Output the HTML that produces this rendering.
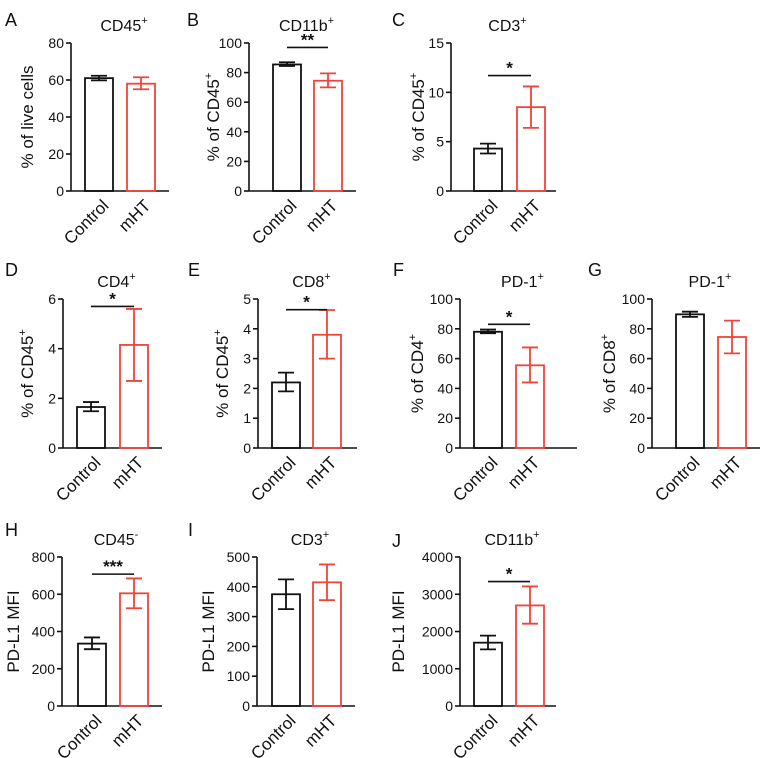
<!DOCTYPE html>
<html><head><meta charset="utf-8"><style>
html,body{margin:0;padding:0;background:#fff;}
svg{display:block;font-family:"Liberation Sans",Arial,sans-serif;}
</style></head><body>
<svg id="fig" width="766" height="758" viewBox="0 0 766 758"></svg>
<script>
// Data arrays (value, lower error, upper error) per panel: [control, mHT]
const panelLetters = ["A","B","C","D","E","F","G","H","I","J"];
const panelTitles = ["CD45","CD11b","CD3","CD4","CD8","PD-1","PD-1","CD45","CD3","CD11b"];
const titleSups = ["+","+","+","+","+","+","+","-","+","+"];
const yTitles = ["% of live cells","% of CD45","% of CD45","% of CD45","% of CD45","% of CD4","% of CD8","PD-L1 MFI","PD-L1 MFI","PD-L1 MFI"];
const yTitleSups = ["","+","+","+","+","+","+","","",""];
const yMaxes = [80,100,15,6,5,100,100,800,500,4000];
const yTickSteps = [20,20,5,2,1,20,20,200,100,1000];
const categories = ["Control","mHT"];
const controlMeans = [61,85.5,4.3,1.65,2.2,78,89.7,335,375,1700];
const controlLow = [59.8,84.5,3.8,1.48,1.9,77,88,305,325,1520];
const controlHigh = [62.3,87,4.8,1.85,2.53,79.5,91.5,368,425,1890];
const mhtMeans = [58,74.5,8.5,4.15,3.8,55.5,74.5,605,415,2700];
const mhtLow = [55,70,6.4,2.7,3.0,44,63.5,525,355,2210];
const mhtHigh = [61.5,79.5,10.6,5.6,4.63,67.5,85.5,685,475,3210];
const sigLabels = ["","**","*","*","*","*","","***","","*"];
const sigValues = [0,97,11.7,5.7,4.64,83,0,708,0,3340];

// Layout (pixel geometry, not data)
const layout = [
 {ax:71,top:43,bot:191,xe:169,b1:85,b2:127,lx:5,ly:12,yo:44},
 {ax:249,top:43,bot:191,xe:356,b1:273,b2:314,lx:187,ly:12,yo:36},
 {ax:451,top:43,bot:191,xe:556,b1:474,b2:517,lx:392,ly:12,yo:33},
 {ax:63,top:299,bot:448,xe:162,b1:77,b2:120,lx:5,ly:262,yo:36},
 {ax:258,top:299,bot:448,xe:357,b1:272,b2:313,lx:188,ly:262,yo:36},
 {ax:460,top:299,bot:448,xe:577,b1:474,b2:516,lx:393,ly:262,yo:43},
 {ax:652,top:299,bot:448,xe:760,b1:676,b2:718,lx:588,ly:262,yo:43},
 {ax:62,top:557,bot:706,xe:162,b1:78,b2:120,lx:5,ly:522,yo:49},
 {ax:257,top:557,bot:706,xe:355,b1:272,b2:313,lx:188,ly:522,yo:49},
 {ax:460,top:557,bot:706,xe:556,b1:474,b2:516,lx:392,ly:533,yo:62}
];
const BW=28, RED="#f0443a", NS="http://www.w3.org/2000/svg";
const svg=document.getElementById('fig');
function mk(tag,attrs,parent){const e=document.createElementNS(NS,tag);for(const k in attrs)e.setAttribute(k,attrs[k]);(parent||svg).appendChild(e);return e;}

for(let p=0;p<10;p++){
  const L=layout[p];
  const g=mk('g',{});
  
  
  const ymax=yMaxes[p];
  const y=v=>L.bot-(v/ymax)*(L.bot-L.top);
  const lt=mk('text',{x:L.lx,y:L.ly+14,'font-size':18,fill:'#111'},g);lt.textContent=panelLetters[p];
  
  
  const tcx=(L.ax+L.xe)/2+4;
  const tt=mk('text',{x:tcx,y:L.top-12,'font-size':16,'text-anchor':'middle',fill:'#111'},g);
  
  
  tt.appendChild(document.createTextNode(panelTitles[p]));
  const ts=mk('tspan',{'font-size':11,dy:-7},tt);ts.textContent=titleSups[p];
  const ya=mk('line',{x1:L.ax,y1:L.top,x2:L.ax,y2:L.bot,stroke:'#111','stroke-width':1.6},g);
  
  
  const xa=mk('line',{x1:L.ax,y1:L.bot,x2:L.xe,y2:L.bot,stroke:'#111','stroke-width':1.6},g);
  
  
  for(let v=0;v<=ymax+1e-9;v+=yTickSteps[p]){
    const yy=y(v);
    mk('line',{x1:L.ax-5,y1:yy,x2:L.ax,y2:yy,stroke:'#111','stroke-width':1.6},g);
    const tl=mk('text',{x:L.ax-7,y:yy+5,'font-size':14,'text-anchor':'end',fill:'#111'},g);
    tl.textContent=String(v);
    
    
  }
  const ymid=(L.top+L.bot)/2, yx=L.ax-L.yo;
  const yt=mk('text',{x:yx,y:ymid,'font-size':17,'text-anchor':'middle',fill:'#111',transform:`rotate(-90 ${yx} ${ymid})`,dy:6},g);
  
  
  yt.appendChild(document.createTextNode(yTitles[p]));
  if(yTitleSups[p]){const s=mk('tspan',{'font-size':11,dy:-7},yt);s.textContent=yTitleSups[p];}
  const means=[controlMeans[p],mhtMeans[p]],lo=[controlLow[p],mhtLow[p]],hi=[controlHigh[p],mhtHigh[p]];
  [L.b1,L.b2].forEach((bx,i)=>{
    const col=i?RED:'#111';
    const r=mk('rect',{x:bx,y:y(means[i]),width:BW,height:L.bot-y(means[i]),fill:'none',stroke:col,'stroke-width':1.8},g);
    
    
    const cx=bx+BW/2;
    const eb=mk('path',{d:`M${cx},${y(lo[i])}V${y(hi[i])}M${cx-8},${y(lo[i])}H${cx+8}M${cx-8},${y(hi[i])}H${cx+8}`,stroke:col,'stroke-width':1.8,fill:'none'},g);
    
    
    const ex=cx+5, ey=L.bot+10;
    const xl=mk('text',{x:ex,y:ey,'font-size':17,'text-anchor':'end',fill:'#111',transform:`rotate(-45 ${ex} ${ey})`,dy:8},g);
    xl.textContent=categories[i];
    
    
  });
  if(sigLabels[p]){
    const sy=y(sigValues[p]);
    const sl=mk('line',{x1:L.b1+14,y1:sy,x2:L.b2+14,y2:sy,stroke:'#111','stroke-width':1.6},g);
    
    
    const st=mk('text',{x:(L.b1+L.b2)/2+14,y:sy-2,'font-size':17,'font-weight':'bold','text-anchor':'middle',fill:'#111'},g);
    st.textContent=sigLabels[p];
    
    
  }
}
</script>
</body></html>
